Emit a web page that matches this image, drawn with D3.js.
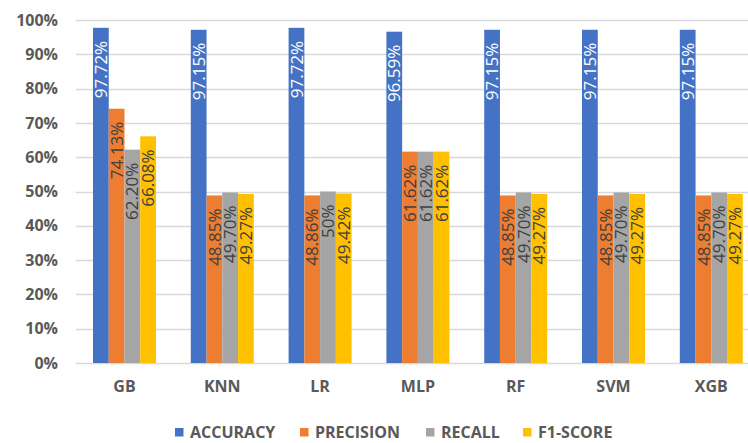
<!DOCTYPE html>
<html>
<head>
<meta charset="utf-8">
<script src="https://cdn.jsdelivr.net/npm/d3@7"></script>
<style>
  html, body { margin: 0; padding: 0; background: #fff; }
  svg { display: block; }
</style>
</head>
<body>
<div id="chart"></div>
<script>
// Model names along the x axis
const categories = ["GB", "KNN", "LR", "MLP", "RF", "SVM", "XGB"];
// Metric series, in percent
const seriesNames = ["ACCURACY", "PRECISION", "RECALL", "F1-SCORE"];
const accuracy  = [97.72, 97.15, 97.72, 96.59, 97.15, 97.15, 97.15];
const precision = [74.13, 48.85, 48.86, 61.62, 48.85, 48.85, 48.85];
const recall    = [62.20, 49.70, 50,    61.62, 49.70, 49.70, 49.70];
const f1score   = [66.08, 49.27, 49.42, 61.62, 49.27, 49.27, 49.27];
const yTicks = [0, 10, 20, 30, 40, 50, 60, 70, 80, 90, 100];

const colors = ["#4472C4", "#ED7D31", "#A5A5A5", "#FFC000"];
const seriesValues = [accuracy, precision, recall, f1score];

const W = 748, H = 443;
const svg = d3.select("#chart").append("svg")
  .attr("width", W).attr("height", H);

const plotLeft = 75.6, plotRight = 760.2, plotTop = 20, plotBottom = 363;

const x = d3.scaleBand().domain(categories)
  .range([plotLeft, plotRight]).paddingInner(0.356).paddingOuter(0.178);
const xs = d3.scaleBand().domain(seriesNames).range([0, x.bandwidth()]);
const y = d3.scaleLinear().domain([0, 100]).range([plotBottom, plotTop]);

// gridlines
svg.append("g").selectAll("line").data(yTicks).join("line")
  .attr("x1", plotLeft).attr("x2", W)
  .attr("y1", d => Math.round(y(d)) + 0.5).attr("y2", d => Math.round(y(d)) + 0.5)
  .attr("stroke", "#D9D9D9").attr("stroke-width", 1.3);

// y axis labels
const yAxis = d3.axisLeft(y).tickValues(yTicks).tickFormat(d => d + "%").tickSize(0).tickPadding(0);
const yg = svg.append("g").attr("transform", `translate(58,0)`).call(yAxis);
yg.select(".domain").remove();
yg.selectAll("text")
  .attr("font-family", "'Open Sans', sans-serif").attr("font-weight", "bold")
  .attr("font-size", 16).attr("fill", "#595959");

// x axis labels
const xAxis = d3.axisBottom(x).tickSize(0).tickPadding(0);
const xg = svg.append("g").attr("transform", `translate(0,${plotBottom + 18})`).call(xAxis);
xg.select(".domain").remove();
xg.selectAll("text")
  .attr("font-family", "'Open Sans', sans-serif").attr("font-weight", "bold")
  .attr("font-size", 16).attr("fill", "#595959");

// flatten data
const rows = [];
categories.forEach((c, i) => {
  seriesNames.forEach((s, j) => {
    rows.push({ cat: c, series: s, value: seriesValues[j][i], color: colors[j], idx: j });
  });
});

const fmt = v => Number.isInteger(v) ? v + "%" : v.toFixed(2) + "%";

const groups = svg.append("g");
groups.selectAll("rect").data(rows).join("rect")
  .attr("x", d => x(d.cat) + xs(d.series))
  .attr("width", xs.bandwidth())
  .attr("y", d => y(d.value))
  .attr("height", d => y(0) - y(d.value))
  .attr("fill", d => d.color);

// value labels, rotated inside the bar top
groups.selectAll("text").data(rows).join("text")
  .attr("transform", d => {
    const cx = x(d.cat) + xs(d.series) + xs.bandwidth() / 2;
    const cy = y(d.value) + 13;
    return `translate(${cx},${cy}) rotate(-90)`;
  })
  .attr("text-anchor", "end")
  .attr("dy", "0.36em")
  .attr("font-family", "'Open Sans', sans-serif")
  .attr("font-size", 17)
  .attr("fill", d => d.idx === 0 ? "#FFFFFF" : "#404040")
  .text(d => fmt(d.value));

// legend
const legendX = [175, 300, 426, 523];
const lg = svg.append("g");
seriesNames.forEach((s, j) => {
  lg.append("rect").attr("x", legendX[j]).attr("y", 428).attr("width", 8.5).attr("height", 8.5)
    .attr("fill", colors[j]);
  lg.append("text").attr("x", legendX[j] + 15).attr("y", 432.5).attr("dy", "0.35em")
    .attr("font-family", "'Open Sans', sans-serif").attr("font-weight", "bold")
    .attr("font-size", 16).attr("fill", "#595959").text(s);
});
</script>
</body>
</html>
